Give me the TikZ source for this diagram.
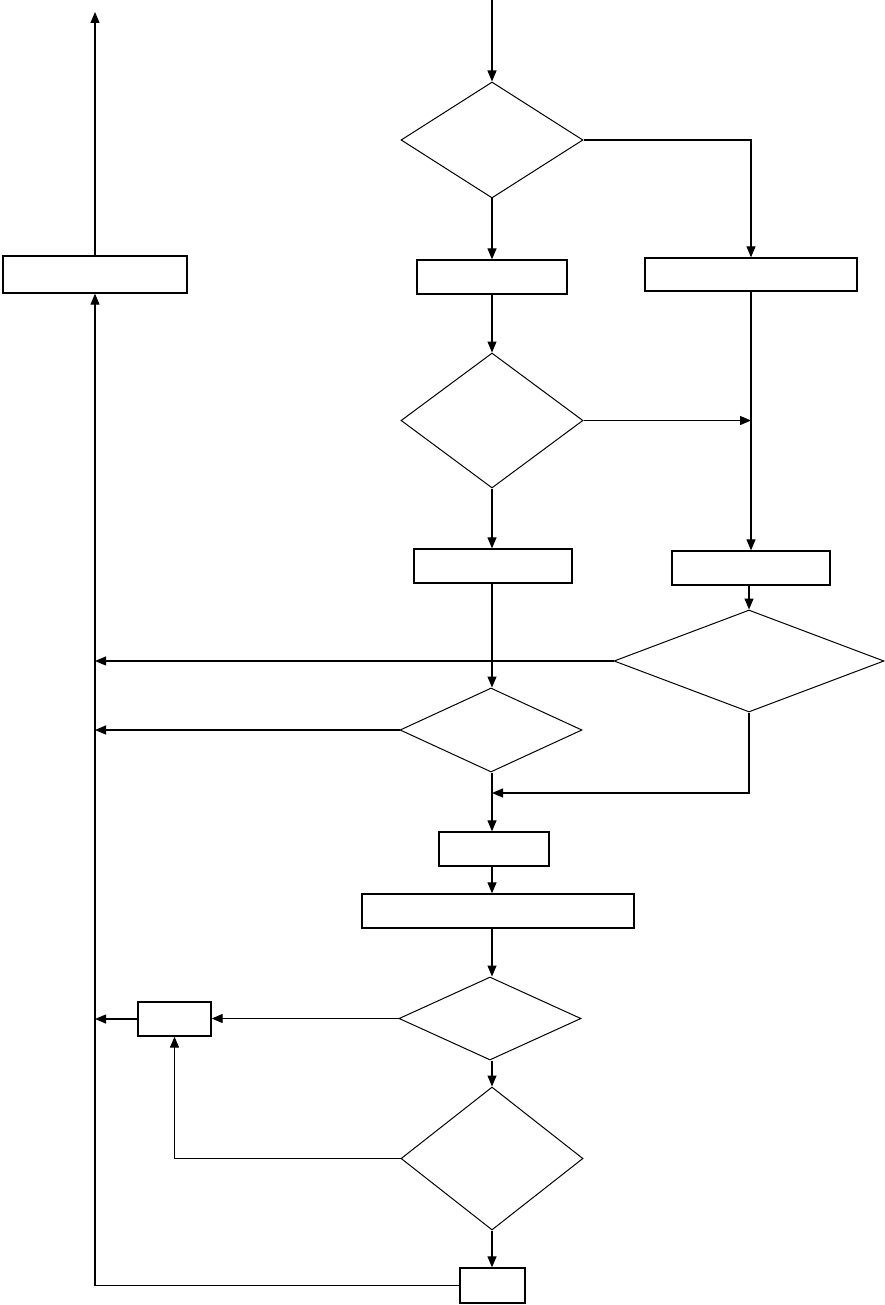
\documentclass[tikz,border=0pt]{standalone}
\usetikzlibrary{shapes.geometric,arrows.meta}

\tikzset{
  box/.style={draw,line width=1.3pt,inner sep=0pt},
  test/.style={draw,diamond,line width=1pt,inner sep=0pt},
  line/.style={line width=1.2pt},
}

\begin{document}
\begin{tikzpicture}[>={Triangle[length=11pt,width=9pt]},x=1pt,y=-1pt]
\useasboundingbox (0,0) rectangle (885,1305);
% boxes and tests, placed at their centres
\node[test,minimum width=182pt,minimum height=116pt] (D1) at (492,140) {};
\node[box,minimum width=150pt,minimum height=34pt] (B2) at (492,277) {};
\node[box,minimum width=212pt,minimum height=33pt] (B3) at (751,274.5) {};
\node[box,minimum width=184pt,minimum height=37pt] (B1) at (95,274.5) {};
\node[test,minimum width=182pt,minimum height=135pt] (D2) at (492,420.5) {};
\node[box,minimum width=158pt,minimum height=34pt] (B4) at (493,566) {};
\node[box,minimum width=158pt,minimum height=34pt] (B5) at (751,568) {};
\node[test,minimum width=270pt,minimum height=102pt] (D3) at (749,661) {};
\node[test,minimum width=182pt,minimum height=84pt] (D4) at (491,730) {};
\node[box,minimum width=110pt,minimum height=34pt] (B6) at (494,849) {};
\node[box,minimum width=272pt,minimum height=34pt] (B7) at (498,911) {};
\node[test,minimum width=182pt,minimum height=83pt] (D5) at (490,1018.5) {};
\node[box,minimum width=73pt,minimum height=34pt] (B8) at (174.5,1019) {};
\node[test,minimum width=182pt,minimum height=143pt] (D6) at (492,1158.5) {};
\node[box,minimum width=65pt,minimum height=35pt] (B9) at (492.5,1285.5) {};
\coordinate (in) at (492,0);
\coordinate (out) at (95,12);
\coordinate (join) at (492,793);
% connectors
\draw[line,->] (in) -- (D1.north);
\draw[line,->] (D1.east) -| (B3.north);
\draw[line,->] (D1.south) -- (B2.north);
\draw[line,->] (B1.north) -- (out);
\draw[line,->] (B2.south) -- (D2.north);
\draw[line,->] (D2.east) -- (D2.east -| B3.south);
\draw[line,->] (B3.south) -- (B5.north);
\draw[line,->] (D2.south) -- (D2.south |- B4.north);
\draw[line,->] (B5.south -| D3.north) -- (D3.north);
\draw[line,->] (D3.west) -- (D3.west -| B1.south);
\draw[line,->] (B4.south -| join) -- (join |- D4.north);
\draw[line,->] (D4.west) -- (D4.west -| B1.south);
\draw[line,->] (D3.south) |- (join);
\draw[line,->] (join |- D4.south) -- (join |- B6.north);
\draw[line,->] (B6.south -| join) -- (join |- B7.north);
\draw[line,->] (B7.south -| join) -- (join |- D5.north);
\draw[line,->] (D5.west) -- (D5.west -| B8.east);
\draw[line,->] (B8.west) -- (B8.west -| B1.south);
\draw[line,->] (D5.south -| join) -- (D6.north);
\draw[line,->] (D6.west) -| (B8.south);
\draw[line,->] (D6.south) -- (D6.south |- B9.north);
\draw[line,->] (B9.west) -| (B1.south);
\end{tikzpicture}
\end{document}
